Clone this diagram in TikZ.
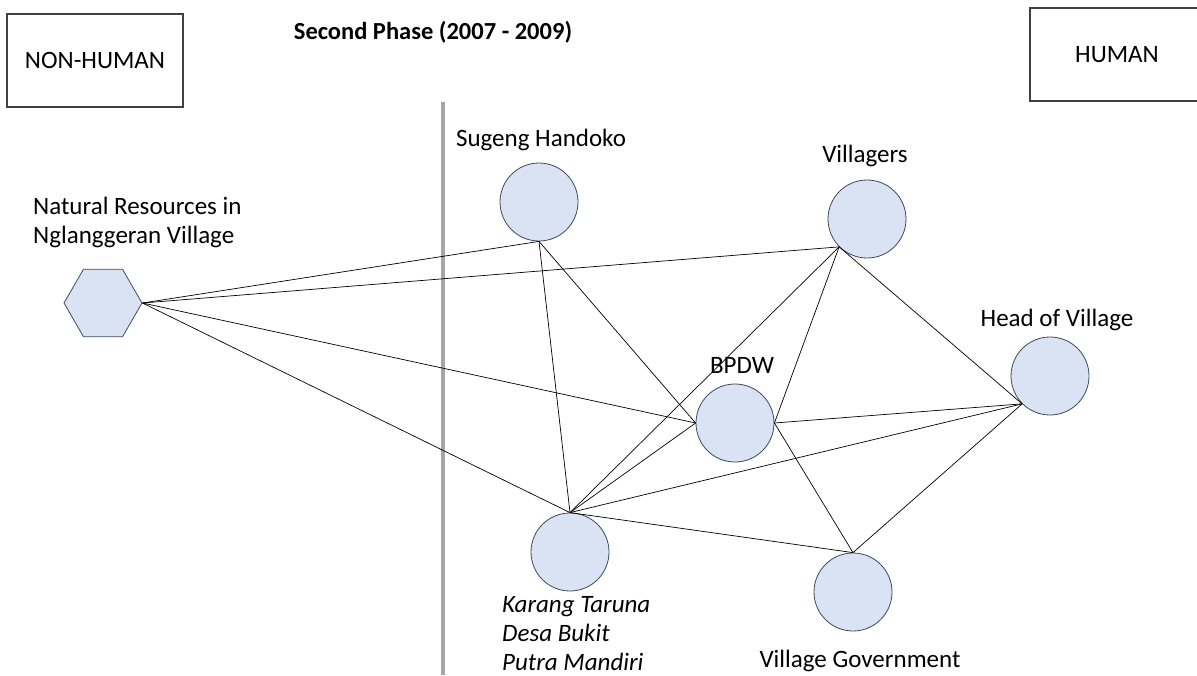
\documentclass[tikz,border=0pt]{standalone}
\usepackage{fontspec}
\setmainfont{Carlito}
\usepackage{tikz}
\usetikzlibrary{shapes.geometric}
\usetikzlibrary{positioning}

\definecolor{actorfill}{HTML}{DAE3F3}
\definecolor{actorline}{HTML}{3F4B5B}
\definecolor{boxline}{HTML}{404040}
\definecolor{divider}{HTML}{A6A6A6}

\tikzset{
  actor/.style={circle, draw=actorline, fill=actorfill, line width=0.8pt,
    minimum size=78pt, inner sep=0pt},
  thing/.style={regular polygon, regular polygon sides=6, draw=actorline,
    fill=actorfill, line width=0.8pt, minimum size=78pt, inner sep=0pt},
  tag/.style={inner sep=0pt, font=\fontsize{25}{29}\selectfont},
  sidebox/.style={draw=boxline, line width=1.2pt, inner sep=0pt,
    minimum height=93pt, font=\fontsize{25}{29}\selectfont},
  tie/.style={line width=0.7pt},
  wall/.style={draw=divider, line width=4.5pt}
}

\begin{document}
\begin{tikzpicture}[x=1pt, y=1pt]
\useasboundingbox (0,0) rectangle (1197,-675);

\node[sidebox, minimum width=176pt] (nonhuman) at (95,-60.5) {NON-HUMAN};
\node[sidebox, minimum width=174pt] (human) at (1117,-54.5) {HUMAN};
\node[tag, anchor=base, font=\fontsize{24.5}{28}\selectfont\bfseries] (phase) at (433,-39) {Second Phase (2007 - 2009)};

\coordinate (walltop) at (443,-102);
\coordinate (wallbot) at (443,-675);
\draw[wall] (walltop) -- (wallbot);

\node[thing] (nature) at (103,-303) {};
\node[actor] (sugeng) at (539,-202) {};
\node[actor] (villagers) at (867,-219) {};
\node[actor] (bpdw) at (735,-423) {};
\node[actor] (head) at (1050,-376) {};
\node[actor] (karang) at (570,-552) {};
\node[actor] (vgov) at (853,-592) {};

\node[tag, align=left, anchor=north west] (naturelbl) at (33,-197) {Natural Resources in\\Nglanggeran Village};
\node[tag, above=16pt of sugeng, anchor=base, xshift=2pt] (sugenglbl) {Sugeng Handoko};
\node[tag, above=17pt of villagers, anchor=base, xshift=-2pt] (villagerslbl) {Villagers};
\node[tag, above=10pt of bpdw, anchor=base, xshift=7pt] (bpdwlbl) {BPDW};
\node[tag, above=10pt of head, anchor=base, xshift=7pt] (headlbl) {Head of Village};
\node[tag, below=36pt of vgov, anchor=base, xshift=7pt] (vgovlbl) {Village Government};
\node[tag, align=left, anchor=north west, font=\fontsize{25}{29}\selectfont\itshape] (karanglbl) at (502,-596) {Karang Taruna\\Desa Bukit\\Putra Mandiri};

\draw[tie] (nature.east) -- (sugeng.south);
\draw[tie] (nature.east) -- (villagers.225);
\draw[tie] (nature.east) -- (bpdw.west);
\draw[tie] (nature.east) -- (karang.north);
\draw[tie] (sugeng.south) -- (karang.north);
\draw[tie] (sugeng.south) -- (bpdw.west);
\draw[tie] (villagers.225) -- (karang.north);
\draw[tie] (villagers.225) -- (bpdw.east);
\draw[tie] (villagers.225) -- (head.225);
\draw[tie] (bpdw.east) -- (head.225);
\draw[tie] (bpdw.east) -- (vgov.north);
\draw[tie] (karang.north) -- (bpdw.west);
\draw[tie] (karang.north) -- (head.225);
\draw[tie] (karang.north) -- (vgov.north);
\draw[tie] (vgov.north) -- (head.225);
\end{tikzpicture}
\end{document}
